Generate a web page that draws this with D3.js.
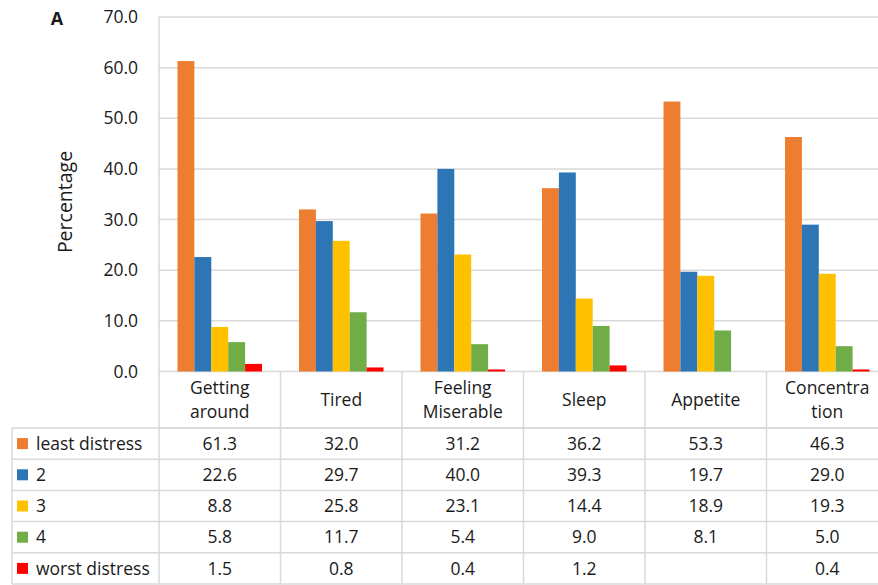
<!DOCTYPE html>
<html>
<head>
<meta charset="utf-8">
<script src="https://cdn.jsdelivr.net/npm/d3@7/dist/d3.min.js"></script>
<style>
	body { margin: 0; background: #fff; }
	svg text { font-family: "Open Sans", "Noto Sans", sans-serif; fill: #1a1a1a; }
</style>
</head>
<body>
<div id="chart"></div>
<script>
// categories (header lines) and series
var categories = ["Getting around", "Tired", "Feeling Miserable", "Sleep", "Appetite", "Concentration"];
var categoryLines = [["Getting", "around"], ["Tired"], ["Feeling", "Miserable"], ["Sleep"], ["Appetite"], ["Concentra", "tion"]];
var seriesNames = ["least distress", "2", "3", "4", "worst distress"];
var seriesColors = ["#ED7D31", "#2E75B6", "#FFC000", "#70AD47", "#FF0000"];

var leastDistress = [61.3, 32.0, 31.2, 36.2, 53.3, 46.3];
var distress2 = [22.6, 29.7, 40.0, 39.3, 19.7, 29.0];
var distress3 = [8.8, 25.8, 23.1, 14.4, 18.9, 19.3];
var distress4 = [5.8, 11.7, 5.4, 9.0, 8.1, 5.0];
var worstDistress = [1.5, 0.8, 0.4, 1.2, null, 0.4];
var series = [leastDistress, distress2, distress3, distress4, worstDistress];

var yTicks = [0, 10, 20, 30, 40, 50, 60, 70];

var W = 878, H = 585;
var plotLeft = 159, colW = 121.5, plotTop = 17, plotBottom = 371.5;
var tableLeft = 12, headerBottom = 428, rowH = 31.2;
var gridColor = "#d9d9d9";
var tableFont = "17.5px";

var svg = d3.select("#chart").append("svg").attr("width", W).attr("height", H);
svg.append("rect").attr("width", W).attr("height", H).attr("fill", "#fff");

var x = d3.scaleBand().domain(categories).range([plotLeft, plotLeft + colW*categories.length]).padding(0);
var xs = d3.scaleBand().domain(seriesNames).range([18.5, colW - 18.5]).padding(0);
var y = d3.scaleLinear().domain([0, 70]).range([plotBottom, plotTop]);
var right = plotLeft + colW*categories.length;

// gridlines
svg.append("g").selectAll("line").data(yTicks).enter().append("line")
	.attr("x1", plotLeft).attr("x2", right)
	.attr("y1", function(d){return y(d);}).attr("y2", function(d){return y(d);})
	.style("stroke", gridColor).style("stroke-width", 1.5);
svg.append("line").attr("x1", plotLeft).attr("x2", plotLeft).attr("y1", plotTop).attr("y2", plotBottom)
	.style("stroke", gridColor).style("stroke-width", 1.5);

// y axis labels
var yAxis = d3.axisLeft(y).tickValues(yTicks).tickFormat(d3.format(".1f")).tickSize(0).tickPadding(21);
var ga = svg.append("g").attr("transform", "translate(" + plotLeft + ",0)").call(yAxis);
ga.select(".domain").remove();
ga.selectAll("text").style("font-size", "17.5px").style("fill", "#1a1a1a")
	.style("font-family", "'Open Sans', sans-serif");

svg.append("text").attr("transform", "translate(72,202) rotate(-90)")
	.attr("text-anchor", "middle").style("font-size", "19.5px").text("Percentage");
svg.append("text").attr("x", 57).attr("y", 25).attr("text-anchor", "middle")
	.style("font-size", "18px").style("font-weight", "bold").text("A");

// bars
series.forEach(function(vals, si){
	svg.append("g").selectAll("rect")
		.data(vals.map(function(v, i){return {c: categories[i], v: v};}).filter(function(d){return d.v != null;}))
		.enter().append("rect")
		.attr("x", function(d){return x(d.c) + xs(seriesNames[si]);})
		.attr("width", xs.bandwidth())
		.attr("y", function(d){return y(d.v);})
		.attr("height", function(d){return y(0) - y(d.v);})
		.style("fill", seriesColors[si]);
});

// data table
var table = svg.append("g");
var tableBottom = headerBottom + rowH*seriesNames.length;
d3.range(categories.length + 1).forEach(function(i){
	table.append("line").attr("x1", plotLeft + i*colW).attr("x2", plotLeft + i*colW)
		.attr("y1", plotBottom).attr("y2", tableBottom)
		.style("stroke", gridColor).style("stroke-width", 1.5);
});
d3.range(seriesNames.length + 1).forEach(function(r){
	var yy = headerBottom + r*rowH;
	table.append("line").attr("x1", r == 0 ? plotLeft : tableLeft).attr("x2", right).attr("y1", yy).attr("y2", yy)
		.style("stroke", gridColor).style("stroke-width", 1.5);
});
table.append("line").attr("x1", tableLeft).attr("x2", right).attr("y1", headerBottom).attr("y2", headerBottom)
	.style("stroke", gridColor).style("stroke-width", 1.5);
table.append("line").attr("x1", tableLeft).attr("x2", tableLeft).attr("y1", headerBottom).attr("y2", tableBottom)
	.style("stroke", gridColor).style("stroke-width", 1.5);

categories.forEach(function(c, i){
	var lines = categoryLines[i];
	var cx = x(c) + colW/2;
	var midY = (plotBottom + headerBottom)/2;
	lines.forEach(function(t, li){
		table.append("text").attr("x", cx)
			.attr("y", midY + (li - (lines.length - 1)/2)*24)
			.attr("dy", "0.35em").attr("text-anchor", "middle")
			.style("font-size", tableFont).text(t);
	});
});

seriesNames.forEach(function(s, si){
	var cy = headerBottom + si*rowH + rowH/2;
	table.append("rect").attr("x", 17).attr("y", cy - 5.5).attr("width", 11).attr("height", 11)
		.style("fill", seriesColors[si]);
	table.append("text").attr("x", 36).attr("y", cy).attr("dy", "0.35em")
		.style("font-size", tableFont).text(s);
	series[si].forEach(function(v, i){
		if(v == null) return;
		table.append("text").attr("x", x(categories[i]) + colW/2).attr("y", cy).attr("dy", "0.35em")
			.attr("text-anchor", "middle").style("font-size", tableFont).text(v.toFixed(1));
	});
});
</script>
</body>
</html>
